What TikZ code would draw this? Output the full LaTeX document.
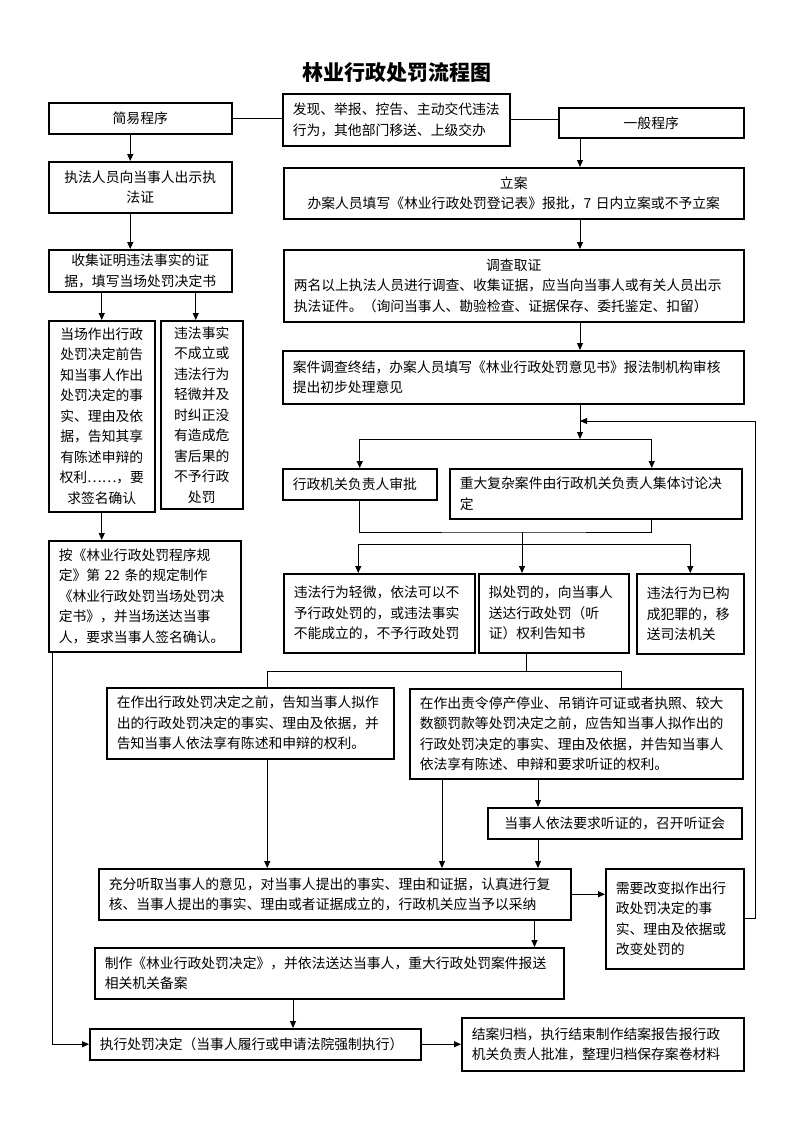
\documentclass[tikz,border=0pt]{standalone}
\usepackage{fontspec}
\setmainfont{Noto Sans CJK SC}
\usepackage{tikz}
\usetikzlibrary{arrows.meta,positioning}

\begin{document}
\begin{tikzpicture}[x=1pt, y=-1pt,
    font=\fontsize{13.8}{20.5}\selectfont,
    box/.style={draw, line width=1.5pt, inner xsep=10pt, inner ysep=2pt, anchor=north west, align=left},
    cbox/.style={box, align=center},
    ln/.style={line width=0.9pt},
    arr/.style={ln, -{Triangle[length=7pt,width=6pt]}}]
  \useasboundingbox (0,0) rectangle (793,1122);
  \node[font=\fontsize{21}{25}\selectfont\bfseries] (title) at (397,73) {林业行政处罚流程图};

  % simple procedure (left column)
  \node[cbox, text width=163pt, minimum height=31pt] (jianyi) at (48,102) {简易程序};
  \node[cbox, text width=163pt, minimum height=51pt] (chushi) at (48,161) {执法人员向当事人出示执\\法证};
  \node[cbox, text width=163pt, minimum height=42pt] (shouji) at (48,249) {收集证明违法事实的证\\据，填写当场处罚决定书};
  \node[cbox, text width=86pt, minimum height=191pt] (dangchang) at (48,320)
     {当场作出行政\\处罚决定前告\\知当事人作出\\处罚决定的事\\实、理由及依\\据，告知其享\\有陈述申辩的\\权利……，要\\求签名确认};
  \node[cbox, text width=62pt, minimum height=188pt] (bucheng) at (160,320)
     {违法事实\\不成立或\\违法行为\\轻微并及\\时纠正没\\有造成危\\害后果的\\不予行政\\处罚};
  \node[box, text width=172pt, minimum height=111pt] (anguiding) at (48,540)
     {按《林业行政处罚程序规\\定》第 22 条的规定制作\\《林业行政处罚当场处罚决\\定书》，并当场送达当事\\人，要求当事人签名确认。};

  % general procedure (right column)
  \node[box, text width=207pt, minimum height=52pt] (faxian) at (282,93) {发现、举报、控告、主动交代违法\\行为，其他部门移送、上级交办};
  \node[cbox, text width=165pt, minimum height=30pt] (yiban) at (558,107) {一般程序};
  \node[cbox, text width=440pt, minimum height=51pt] (lian) at (283,167)
     {立案\\办案人员填写《林业行政处罚登记表》报批，7 日内立案或不予立案};
  \node[box, text width=440pt, minimum height=72pt] (diaocha) at (283,249)
     {\makebox[440pt]{调查取证}\\两名以上执法人员进行调查、收集证据，应当向当事人或有关人员出示\\执法证件。（询问当事人、勘验检查、证据保存、委托鉴定、扣留）};
  \node[box, text width=441pt, minimum height=53pt] (zhongjie) at (282,350)
     {案件调查终结，办案人员填写《林业行政处罚意见书》报法制机构审核\\提出初步处理意见};
  \node[box, text width=134pt, minimum height=31pt] (shenpi) at (282,468) {行政机关负责人审批};
  \node[box, text width=272pt, minimum height=50pt] (taolun) at (449,468) {重大复杂案件由行政机关负责人集体讨论决\\定};
  \node[box, text width=171pt, minimum height=79pt] (buyu) at (283,573)
     {违法行为轻微，依法可以不\\予行政处罚的，或违法事实\\不能成立的，不予行政处罚};
  \node[box, text width=130pt, minimum height=79pt] (nichufa) at (478,573)
     {拟处罚的，向当事人\\送达行政处罚（听\\证）权利告知书};
  \node[box, text width=87pt, minimum height=80pt] (yisong) at (636,573)
     {违法行为已构\\成犯罪的，移\\送司法机关};

  % notification and hearing
  \node[box, text width=267pt, minimum height=71pt] (gaozhiA) at (106,687)
     {在作出行政处罚决定之前，告知当事人拟作\\出的行政处罚决定的事实、理由及依据，并\\告知当事人依法享有陈述和申辩的权利。};
  \node[box, text width=313pt, minimum height=90pt] (gaozhiB) at (409,688)
     {在作出责令停产停业、吊销许可证或者执照、较大\\数额罚款等处罚决定之前，应告知当事人拟作出的\\行政处罚决定的事实、理由及依据，并告知当事人\\依法享有陈述、申辩和要求听证的权利。};
  \node[cbox, text width=234pt, minimum height=31pt] (tingzheng) at (487,807) {当事人依法要求听证的，召开听证会};
  \node[box, text width=452pt, minimum height=51pt] (tingqu) at (98,868)
     {充分听取当事人的意见，对当事人提出的事实、理由和证据，认真进行复\\核、当事人提出的事实、理由或者证据成立的，行政机关应当予以采纳};
  \node[box, text width=118pt, minimum height=100pt] (gaibian) at (605,868)
     {需要改变拟作出行\\政处罚决定的事\\实、理由及依据或\\改变处罚的};
  \node[box, text width=449pt, minimum height=51pt] (zhizuo) at (94,947)
     {制作《林业行政处罚决定》，并依法送达当事人，重大行政处罚案件报送\\相关机关备案};
  \node[box, text width=311pt, minimum height=31pt] (zhixing) at (89,1028) {执行处罚决定（当事人履行或申请法院强制执行）};
  \node[box, text width=262pt, minimum height=53pt] (jiean) at (461,1017)
     {结案归档，执行结束制作结案报告报行政\\机关负责人批准，整理归档保存案卷材料};

  \coordinate (spine) at (580,0);
  \coordinate (back) at (580,421);
  \coordinate (fork1) at (580,439);
  \coordinate (merge) at (522,532);
  \coordinate (fork2) at (522,544);
  \coordinate (fork3) at (526,671);

  % connectors
  \draw[ln] (jianyi.east) -- (jianyi.east -| faxian.west);
  \draw[ln] (faxian.east) -- (faxian.east -| yiban.west);
  \draw[arr] ([xshift=-10]jianyi.south) -- ([xshift=-10]chushi.north);
  \draw[arr] ([xshift=-10]chushi.south) -- ([xshift=-10]shouji.north);
  \draw[arr] (shouji.south -| dangchang.north) -- (dangchang.north);
  \draw[arr] ([xshift=-6]bucheng.north |- shouji.south) -- ([xshift=-6]bucheng.north);
  \draw[arr] (dangchang.south) -- (dangchang.south |- anguiding.north);
  \draw[arr] ([xshift=4]anguiding.south west) |- (zhixing.west);

  \draw[arr] (spine |- yiban.south) -- (spine |- lian.north);
  \draw[arr] (spine |- lian.south) -- (spine |- diaocha.north);
  \draw[arr] (spine |- diaocha.south) -- (spine |- zhongjie.north);
  \draw[arr] (spine |- zhongjie.south) -- (fork1);
  \draw[arr] (fork1) -| (shenpi.north);
  \draw[arr] (fork1) -| ([xshift=56]taolun.north);
  \draw[ln] (shenpi.south) |- (merge) -| ([xshift=56]taolun.south);
  \draw[ln] (merge) -- (fork2);
  \draw[arr] (fork2) -| ([xshift=-21]buyu.north);
  \draw[arr] (fork2) -- (fork2 |- nichufa.north);
  \draw[arr] (fork2) -| (yisong.north);

  \draw[ln] (fork3 |- nichufa.south) -- (fork3);
  \draw[ln] (fork3) -| ([xshift=17]gaozhiA.north);
  \draw[ln] (fork3) -| ([xshift=45]gaozhiB.north);
  \draw[arr] ([xshift=17]gaozhiA.south) -- ([xshift=17]gaozhiA.south |- tingqu.north);
  \draw[arr] ([xshift=33]gaozhiB.south west) -- ([xshift=33]gaozhiB.south west |- tingqu.north);
  \draw[arr] ([xshift=129]gaozhiB.south west) -- ([xshift=129]gaozhiB.south west |- tingzheng.north);
  \draw[arr] ([xshift=51]tingzheng.south west) -- ([xshift=51]tingzheng.south west |- tingqu.north);
  \draw[arr] (tingqu.east) -- (tingqu.east -| gaibian.west);
  \draw[arr] (gaibian.east) -- ++(11,0) |- (back);
  \draw[arr] ([xshift=-37]tingqu.south east) -- ([xshift=-37]tingqu.south east |- zhizuo.north);
  \draw[arr] ([xshift=199]zhizuo.south west) -- ([xshift=199]zhizuo.south west |- zhixing.north);
  \draw[arr] (zhixing.east) -- (zhixing.east -| jiean.west);
\end{tikzpicture}
\end{document}
